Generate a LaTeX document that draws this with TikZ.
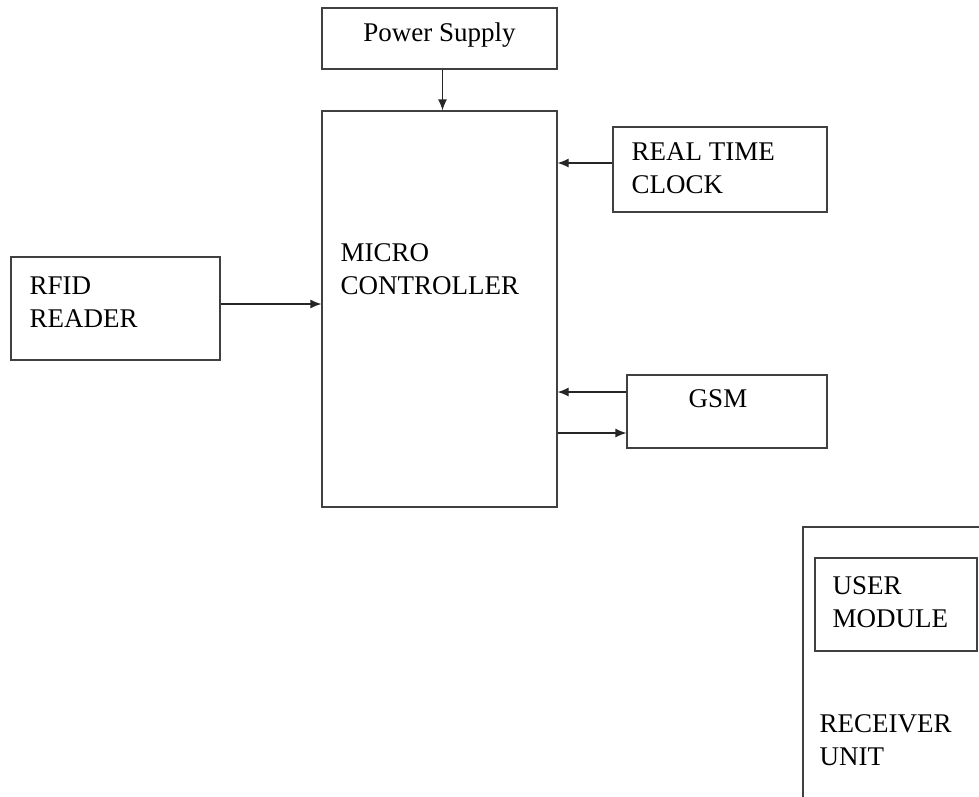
\documentclass[tikz,border=0pt]{standalone}
\usepackage{fontspec}
\setmainfont{Liberation Serif}
\usetikzlibrary{arrows.meta,positioning}

\begin{document}
\begin{tikzpicture}[x=1pt,y=-1pt,
        box/.style={draw=black!75,line width=1.2pt,inner sep=0pt},
        lbl/.style={font=\fontsize{27}{33}\selectfont,align=left,inner sep=0pt,anchor=north west},
        arr/.style={draw=black!85,line width=1.2pt,-{Latex[length=11pt,width=9pt]}}]
      \clip (0,0) rectangle (979,796);
      % blocks
      \node[box,minimum width=235pt,minimum height=61pt]  (ps)   at (439.5,38.5) {};
      \node[box,minimum width=235pt,minimum height=396pt] (mc)   at (439.5,309)  {};
      \node[box,minimum width=214pt,minimum height=85pt]  (rtc)  at (720,169.5)  {};
      \node[box,minimum width=209pt,minimum height=103pt] (rfid) at (115.5,308.5) {};
      \node[box,minimum width=200pt,minimum height=73pt]  (gsm)  at (727,411.5)  {};
      \node[box,minimum width=207pt,minimum height=303pt] (recv) at (906.5,678.5) {};
      \node[box,minimum width=162pt,minimum height=93pt]  (user) at (896,604.5)  {};
      % texts
      \node[lbl,anchor=north] (psT) at ([shift={(0,15)}]ps.north) {Power Supply};
      \node[lbl] (mcT)   at ([shift={(19,133)}]mc.north west)  {MICRO\\CONTROLLER};
      \node[lbl] (rtcT)  at ([shift={(19,16)}]rtc.north west)  {REAL TIME\\CLOCK};
      \node[lbl] (rfidT) at ([shift={(19,20)}]rfid.north west) {RFID\\READER};
      \node[lbl,anchor=north] (gsmT) at ([shift={(-9,15)}]gsm.north) {GSM};
      \node[lbl] (userT) at ([shift={(18,19)}]user.north west) {USER\\MODULE};
      \node[lbl] (recvT) at ([shift={(17,188)}]recv.north west) {RECEIVER\\UNIT};
      % links
      \coordinate (rtcout)  at ([yshift=6.5pt]rtc.west);
      \coordinate (rfidout) at ([yshift=4.5pt]rfid.east);
      \coordinate (gsmout)  at ([yshift=19.5pt]gsm.west);
      \coordinate (gsmin)   at ([yshift=-21.5pt]gsm.west);
      \draw[arr] ([xshift=3pt]ps.south) -- ([xshift=3pt]mc.north);
      \draw[arr] (rtcout) -- (rtcout -| mc.east);
      \draw[arr] (rfidout) -- (rfidout -| mc.west);
      \draw[arr] (gsmout) -- (gsmout -| mc.east);
      \draw[arr] (gsmin -| mc.east) -- (gsmin);
    \end{tikzpicture}
\end{document}
